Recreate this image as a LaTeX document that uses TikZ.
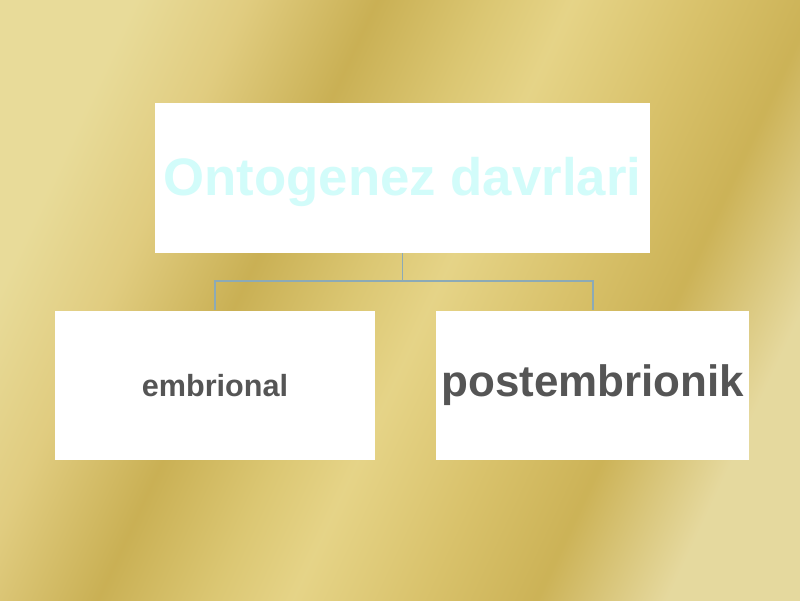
\documentclass[tikz,border=0pt]{standalone}
\usepackage{fontspec}
\setmainfont{Liberation Sans}
\usetikzlibrary{positioning}

\definecolor{linkline}{RGB}{140,170,182}
\definecolor{labelgray}{RGB}{85,85,85}
\definecolor{titlecyan}{RGB}{210,252,250}

\pgfdeclarehorizontalshading{goldsheen}{100bp}{%
  rgb(0bp)=(0.91,0.86,0.60);
  rgb(25bp)=(0.91,0.86,0.60);
  rgb(32bp)=(0.88,0.80,0.50);
  rgb(40bp)=(0.79,0.69,0.33);
  rgb(47bp)=(0.86,0.78,0.45);
  rgb(52bp)=(0.90,0.83,0.53);
  rgb(60bp)=(0.85,0.76,0.42);
  rgb(67bp)=(0.80,0.70,0.34);
  rgb(75bp)=(0.90,0.85,0.62);
  rgb(100bp)=(0.90,0.85,0.62)}

\begin{document}
\begin{tikzpicture}[thick,node distance=1.2cm,
  box node/.style={rectangle,fill=white,inner sep=0pt,
    minimum height=2.98cm,font=\bfseries,text=labelgray},
  link/.style={draw=linkline,line width=0.85pt}]

  % background
  \shade[shading=goldsheen,shading angle=-25] (0,0) rectangle (16,12);
  \useasboundingbox (0,0) rectangle (16,12);

  \node[box node,minimum width=9.9cm,text=titlecyan,text height=26pt,text depth=6.3pt,
    font=\bfseries\fontsize{30}{36}\selectfont]
    (ont) at (8.05,8.44) {Ontogenez davrlari};
  \node[box node,minimum width=6.4cm,font=\bfseries\fontsize{17.4}{21}\selectfont]
    (emb) at (4.3,4.29) {embrional};
  \node[box node,minimum width=6.26cm,font=\bfseries\fontsize{25}{30}\selectfont]
    (post) [right=of emb] {postembrionik};

  \coordinate (fork) at ([yshift=-0.56cm]ont.south);

  \path[link]
  (ont.south) -- (fork) -| (emb.north)
  (fork) -| (post.north)
  ;

\end{tikzpicture}
\end{document}
